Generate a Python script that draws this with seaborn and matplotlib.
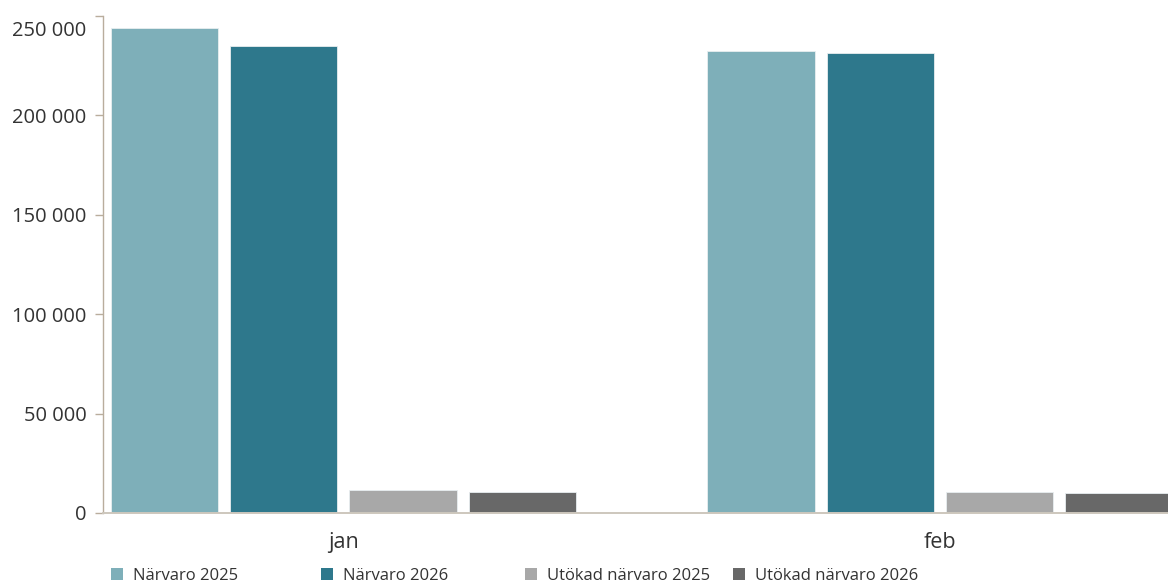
import matplotlib
matplotlib.use("Agg")
import matplotlib.pyplot as plt
from matplotlib.ticker import FuncFormatter
from matplotlib.patches import Patch
from matplotlib.transforms import ScaledTranslation
import pandas as pd
import seaborn as sns

# Monthly attendance hours
months = ["jan", "feb"]
series = ["Närvaro 2025", "Närvaro 2026", "Utökad närvaro 2025", "Utökad närvaro 2026"]
narvaro_2025 = [244100, 232400]
narvaro_2026 = [234700, 231500]
utokad_2025 = [11400, 10550]
utokad_2026 = [10700, 9900]
colors = ["#7eafb9", "#2e788c", "#a8a8a8", "#686868"]

rows = []
for name, vals in zip(series, [narvaro_2025, narvaro_2026, utokad_2025, utokad_2026]):
    for m, v in zip(months, vals):
        rows.append({"month": m, "series": name, "value": v})
df = pd.DataFrame(rows)

sns.set_theme(style="white")
plt.rcParams["font.family"] = ["Open Sans", "DejaVu Sans"]

fig = plt.figure(figsize=(11.68, 5.84), dpi=100)
ax = fig.add_axes([103 / 1168, 71 / 584, 1 - 103 / 1168, (513 - 16) / 584])

sns.barplot(data=df, x="month", y="value", hue="series", order=months,
            hue_order=series, palette=colors, width=0.8, gap=0.1,
            saturation=1, edgecolor="#e8eef0", linewidth=0.6, ax=ax,
            legend=False)

ax.set_ylim(0, 250000)
ax.set_xlim(-0.403, 1.382)
ax.set_yticks([0, 50000, 100000, 150000, 200000, 250000])
ax.yaxis.set_major_formatter(FuncFormatter(lambda v, p: f"{int(v):,}".replace(",", " ")))
ax.set_xlabel("")
ax.set_ylabel("")

for s in ["top", "right"]:
    ax.spines[s].set_visible(False)
ax.spines["left"].set_color("#b9ad9d")
ax.spines["left"].set_linewidth(1.0)
ax.spines["bottom"].set_color("#cdc7bd")
ax.spines["bottom"].set_linewidth(1.4)

ax.tick_params(axis="y", which="both", left=True, length=6, width=1,
               color="#b9ad9d", pad=6, labelsize=14.5, labelcolor="#333333")
ax.tick_params(axis="x", bottom=False, pad=8, labelsize=15.5, labelcolor="#333333")

# Keep the topmost value label inside the figure
top_tick = ax.yaxis.get_major_ticks()[-1]
top_tick.label1.set_transform(top_tick.label1.get_transform()
                              + ScaledTranslation(0, -12 / 100, fig.dpi_scale_trans))

# Legend items laid out in equal-width slots along the bottom
handles = [Patch(facecolor=c, edgecolor="none") for c in colors]
slot_x = [108, 318, 522, 730]
for h, lab, x in zip(handles, series, slot_x):
    fig.legend(handles=[h], labels=[lab], loc="center left",
               bbox_to_anchor=(x / 1168, 1 - 576 / 584), frameon=False,
               fontsize=12, handlelength=0.7, handleheight=0.7,
               handletextpad=0.6, borderaxespad=0, borderpad=0.2,
               labelcolor="#333333")

fig.savefig("out.png", dpi=100)
